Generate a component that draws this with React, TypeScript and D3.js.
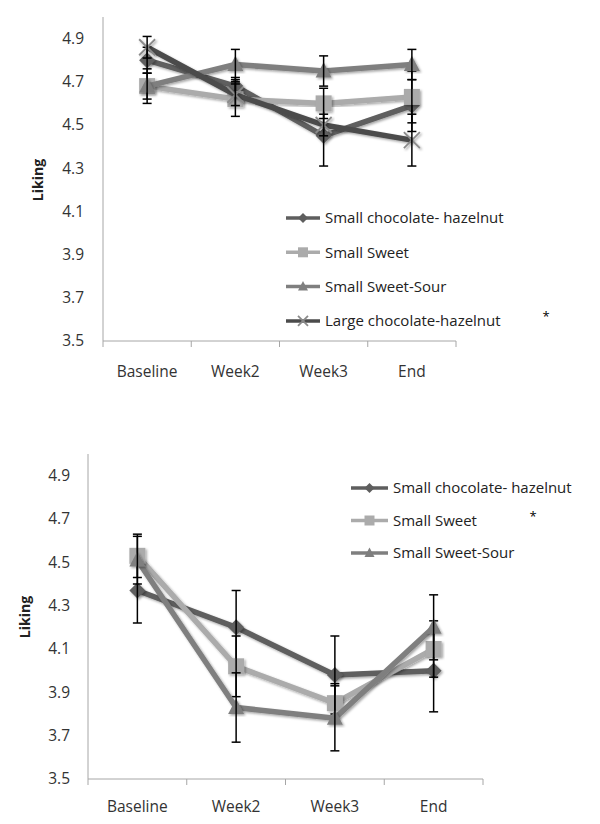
import React from "react";
import * as d3 from "d3";

const categories = ["Baseline", "Week2", "Week3", "End"];
const yTicks = [3.5, 3.7, 3.9, 4.1, 4.3, 4.5, 4.7, 4.9];

// Top chart
const topChocSmall = [4.8, 4.68, 4.45, 4.59];
const topChocSmallErr = [0.06, 0.04, 0.14, 0.12];
const topSweet = [4.68, 4.62, 4.6, 4.63];
const topSweetErr = [0.08, 0.08, 0.07, 0.12];
const topSweetSour = [4.68, 4.78, 4.75, 4.78];
const topSweetSourErr = [0.06, 0.07, 0.07, 0.07];
const topChocLarge = [4.86, 4.64, 4.5, 4.43];
const topChocLargeErr = [0.05, 0.05, 0.05, 0.12];

// Bottom chart
const botChocSmall = [4.37, 4.2, 3.98, 4.0];
const botChocSmallErr = [0.15, 0.17, 0.18, 0.19];
const botSweet = [4.53, 4.02, 3.85, 4.1];
const botSweetErr = [0.1, 0.14, 0.09, 0.13];
const botSweetSour = [4.51, 3.83, 3.78, 4.2];
const botSweetSourErr = [0.11, 0.16, 0.15, 0.15];

const seriesNames = [
  "Small chocolate- hazelnut",
  "Small Sweet",
  "Small Sweet-Sour",
  "Large chocolate-hazelnut",
];

type Series = {
  name: string;
  values: number[];
  err: number[];
  color: string;
  marker: "diamond" | "square" | "triangle" | "x";
};

const FONT = "'Open Sans', 'DejaVu Sans', sans-serif";

const topSeries: Series[] = [
  { name: seriesNames[0], values: topChocSmall, err: topChocSmallErr, color: "#5e5e5e", marker: "diamond" },
  { name: seriesNames[1], values: topSweet, err: topSweetErr, color: "#ababab", marker: "square" },
  { name: seriesNames[2], values: topSweetSour, err: topSweetSourErr, color: "#7f7f7f", marker: "triangle" },
  { name: seriesNames[3], values: topChocLarge, err: topChocLargeErr, color: "#4b4b4b", marker: "x" },
];

const botSeries: Series[] = [
  { name: seriesNames[0], values: botChocSmall, err: botChocSmallErr, color: "#5e5e5e", marker: "diamond" },
  { name: seriesNames[1], values: botSweet, err: botSweetErr, color: "#ababab", marker: "square" },
  { name: seriesNames[2], values: botSweetSour, err: botSweetSourErr, color: "#7f7f7f", marker: "triangle" },
];

function Marker({ type, x, y, size, color }: { type: string; x: number; y: number; size: number; color: string }) {
  const h = size / 2;
  if (type === "diamond") {
    return <path d={`M${x},${y - h}L${x + h},${y}L${x},${y + h}L${x - h},${y}Z`} fill={color} />;
  }
  if (type === "square") {
    return <rect x={x - h} y={y - h} width={size} height={size} fill={color} />;
  }
  if (type === "triangle") {
    return <path d={`M${x},${y - h * 1.1}L${x + h},${y + h * 0.8}L${x - h},${y + h * 0.8}Z`} fill={color} />;
  }
  return (
    <g stroke="#8a8a8a" strokeWidth={1.8}>
      <line x1={x - h} y1={y - h} x2={x + h} y2={y + h} />
      <line x1={x - h} y1={y + h} x2={x + h} y2={y - h} />
    </g>
  );
}

type ChartProps = {
  id: string;
  series: Series[];
  x0: number;
  x1: number;
  yTop: number;
  yBot: number;
  labelX: number;
  titleX: number;
  titleY: number;
  catLabelY: number;
  legendX: number;
  legendY: number;
  legendStep: number;
  legendLine: number;
  star: [number, number];
};

function Chart(p: ChartProps) {
  const x = d3.scaleBand<string>().domain(categories).range([p.x0, p.x1]).padding(0);
  const y = d3.scaleLinear().domain([3.5, 5.0]).range([p.yBot, p.yTop]);
  const cx = (c: string) => (x(c) as number) + x.bandwidth() / 2;
  const line = d3
    .line<number>()
    .x((_, i) => cx(categories[i]))
    .y((v) => y(v));
  const boundaries = [...categories.map((c) => x(c) as number), p.x1];
  return (
    <g fontFamily={FONT}>
      <line x1={p.x0} y1={p.yTop} x2={p.x0} y2={p.yBot} stroke="#a6a6a6" strokeWidth={1} />
      <line x1={p.x0} y1={p.yBot} x2={p.x1} y2={p.yBot} stroke="#a6a6a6" strokeWidth={1} />
      {boundaries.map((b, i) => (
        <line key={i} x1={b} y1={p.yBot} x2={b} y2={p.yBot + 6} stroke="#a6a6a6" />
      ))}
      {yTicks.map((t) => (
        <text key={t} x={p.labelX} y={y(t)} dy="0.35em" textAnchor="end" fontSize={15.5} fill="#333">
          {d3.format(".1f")(t)}
        </text>
      ))}
      {categories.map((c) => (
        <text key={c} x={cx(c)} y={p.catLabelY} textAnchor="middle" fontSize={15.5} fill="#333">
          {c}
        </text>
      ))}
      <text
        transform={`translate(${p.titleX},${p.titleY}) rotate(-90)`}
        textAnchor="middle"
        dy="0.35em"
        fontSize={14}
        fontWeight="bold"
        fill="#222"
      >
        Liking
      </text>
      {p.series.map((s) => (
        <g key={s.name}>
          <path d={line(s.values) || ""} fill="none" stroke={s.color} strokeWidth={5.5} filter={`url(#sh-${p.id})`} strokeLinejoin="round" />
          {s.values.map((v, i) => (
            <g key={i} filter={`url(#sh-${p.id})`}>
              <Marker type={s.marker} x={cx(categories[i])} y={y(v)} size={16} color={s.color} />
            </g>
          ))}
          {s.values.map((v, i) => {
            const xx = cx(categories[i]);
            const hi = y(v + s.err[i]);
            const lo = y(v - s.err[i]);
            return (
              <g key={"e" + i} stroke="#000" strokeWidth={1.5}>
                <line x1={xx} y1={hi} x2={xx} y2={lo} />
                <line x1={xx - 4.5} y1={hi} x2={xx + 4.5} y2={hi} />
                <line x1={xx - 4.5} y1={lo} x2={xx + 4.5} y2={lo} />
              </g>
            );
          })}
        </g>
      ))}
      {p.series.map((s, i) => {
        const ly = p.legendY + i * p.legendStep;
        const lx = p.legendX;
        return (
          <g key={"l" + i}>
            <line x1={lx} y1={ly} x2={lx + p.legendLine} y2={ly} stroke={s.color} strokeWidth={3.5} />
            <Marker type={s.marker} x={lx + p.legendLine / 2} y={ly} size={10} color={s.color} />
            <text x={lx + p.legendLine + 5} y={ly} dy="0.35em" fontSize={15} fill="#222">
              {s.name}
            </text>
          </g>
        );
      })}
      <text x={p.star[0]} y={p.star[1]} dy="0.35em" textAnchor="middle" fontSize={13} fill="#000">
        *
      </text>
    </g>
  );
}

export default function App() {
  return (
    <svg
      width={600}
      height={824}
      style={{ position: "absolute", left: 0, top: 0, background: "#fff" }}
    >
      <defs>
        {["top", "bot"].map((id) => (
          <filter key={id} id={`sh-${id}`} x="-20%" y="-20%" width="140%" height="140%">
            <feDropShadow dx={1.5} dy={1.5} stdDeviation={1.2} floodColor="#000" floodOpacity={0.35} />
          </filter>
        ))}
      </defs>
      <Chart
        id="top"
        series={topSeries}
        x0={103}
        x1={456}
        yTop={17}
        yBot={341}
        labelX={84}
        titleX={38}
        titleY={180}
        catLabelY={377}
        legendX={286}
        legendY={218}
        legendStep={34.3}
        legendLine={34}
        star={[546, 316]}
      />
      <Chart
        id="bot"
        series={botSeries}
        x0={88}
        x1={483}
        yTop={454}
        yBot={779}
        labelX={70}
        titleX={25}
        titleY={617}
        catLabelY={812}
        legendX={351}
        legendY={488}
        legendStep={32.5}
        legendLine={37}
        star={[533, 516]}
      />
    </svg>
  );
}
